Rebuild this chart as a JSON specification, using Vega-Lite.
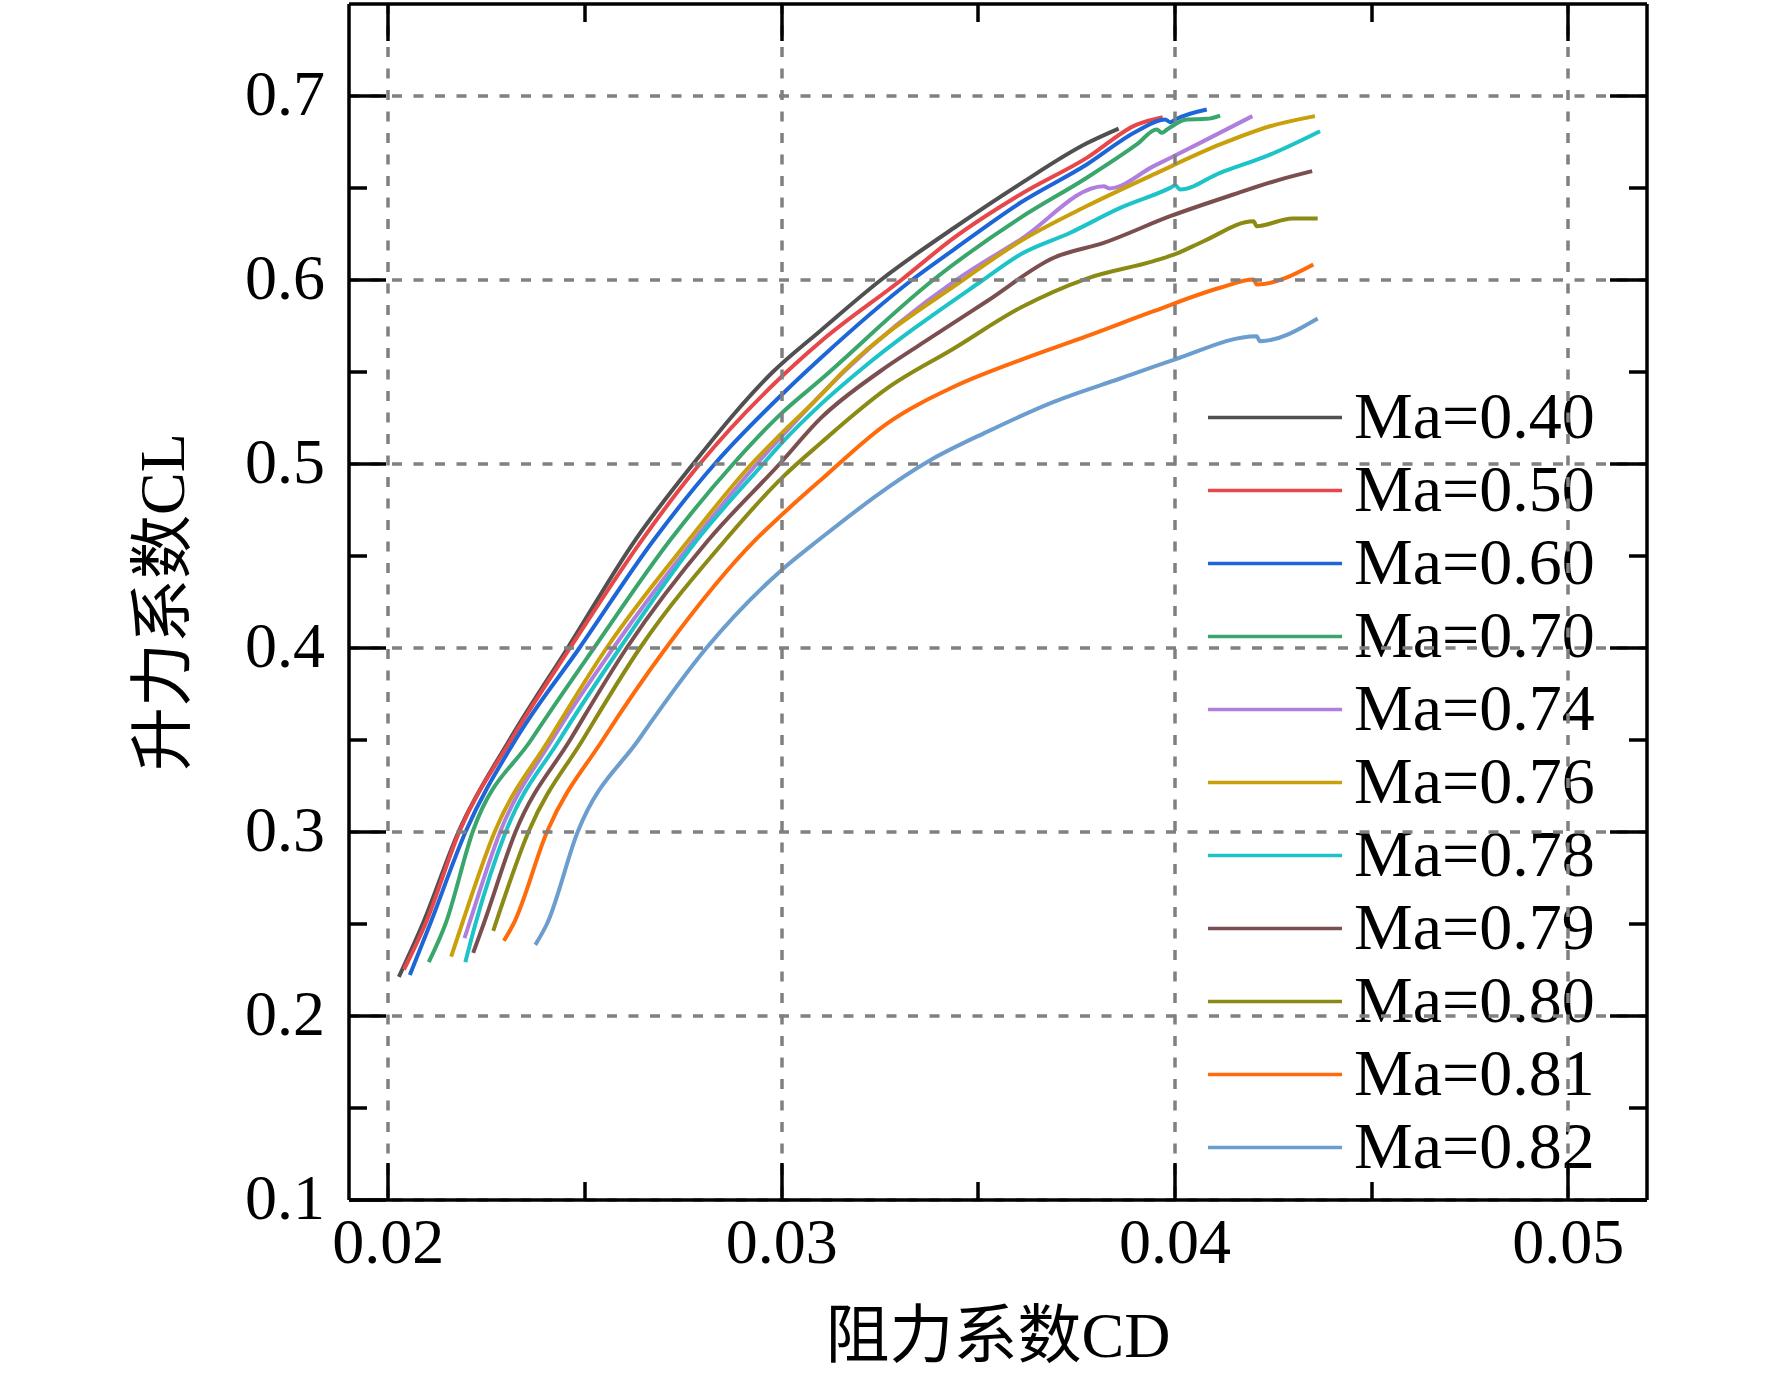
{
  "$schema": "https://vega.github.io/schema/vega-lite/v6.json",
  "width": 1298,
  "height": 1196,
  "autosize": {"type": "none"},
  "padding": {"left": 348.5, "top": 3.5, "right": 125.5, "bottom": 192.5},
  "background": "white",
  "config": {
    "view": {"stroke": null},
    "axis": {
      "domainColor": "black", "domainWidth": 3.5, "tickColor": "black", "tickWidth": 3.5,
      "labelFont": "Liberation Serif", "labelFontSize": 64, "labelColor": "black",
      "titleFont": "Liberation Serif, Noto Sans CJK SC", "titleFontSize": 64, "titleColor": "black", "titleFontWeight": "normal",
      "gridColor": "#808080", "gridWidth": 3.5, "gridDash": [10, 11.5], "gridOpacity": 1
    }
  },
  "data": {"values": [
    {"s":"Ma=0.40","cd":0.02028,"cl":0.221},{"s":"Ma=0.40","cd":0.02089,"cl":0.25},{"s":"Ma=0.40","cd":0.0218,"cl":0.30},{"s":"Ma=0.40","cd":0.0231,"cl":0.35},{"s":"Ma=0.40","cd":0.02458,"cl":0.40},{"s":"Ma=0.40","cd":0.02629,"cl":0.4584},{"s":"Ma=0.40","cd":0.02777,"cl":0.50},{"s":"Ma=0.40","cd":0.0298,"cl":0.55},{"s":"Ma=0.40","cd":0.031,"cl":0.5722},{"s":"Ma=0.40","cd":0.03255,"cl":0.60},{"s":"Ma=0.40","cd":0.03439,"cl":0.628},{"s":"Ma=0.40","cd":0.03608,"cl":0.652},{"s":"Ma=0.40","cd":0.03777,"cl":0.674},{"s":"Ma=0.40","cd":0.03858,"cl":0.682},
    {"s":"Ma=0.50","cd":0.02041,"cl":0.225},{"s":"Ma=0.50","cd":0.02096,"cl":0.25},{"s":"Ma=0.50","cd":0.02182,"cl":0.30},{"s":"Ma=0.50","cd":0.02314,"cl":0.35},{"s":"Ma=0.50","cd":0.02464,"cl":0.40},{"s":"Ma=0.50","cd":0.02646,"cl":0.4584},{"s":"Ma=0.50","cd":0.02794,"cl":0.50},{"s":"Ma=0.50","cd":0.03,"cl":0.547},{"s":"Ma=0.50","cd":0.031,"cl":0.5662},{"s":"Ma=0.50","cd":0.03307,"cl":0.60},{"s":"Ma=0.50","cd":0.03439,"cl":0.6226},{"s":"Ma=0.50","cd":0.03608,"cl":0.6462},{"s":"Ma=0.50","cd":0.03777,"cl":0.6661},{"s":"Ma=0.50","cd":0.03904,"cl":0.6842},{"s":"Ma=0.50","cd":0.0397,"cl":0.6882},
    {"s":"Ma=0.60","cd":0.02056,"cl":0.222},{"s":"Ma=0.60","cd":0.02108,"cl":0.25},{"s":"Ma=0.60","cd":0.02198,"cl":0.30},{"s":"Ma=0.60","cd":0.02325,"cl":0.35},{"s":"Ma=0.60","cd":0.02488,"cl":0.40},{"s":"Ma=0.60","cd":0.02676,"cl":0.4584},{"s":"Ma=0.60","cd":0.02832,"cl":0.50},{"s":"Ma=0.60","cd":0.03,"cl":0.5371},{"s":"Ma=0.60","cd":0.031,"cl":0.5572},{"s":"Ma=0.60","cd":0.03334,"cl":0.60},{"s":"Ma=0.60","cd":0.03439,"cl":0.6163},{"s":"Ma=0.60","cd":0.03608,"cl":0.6417},{"s":"Ma=0.60","cd":0.03777,"cl":0.6625},{"s":"Ma=0.60","cd":0.03904,"cl":0.6806},{"s":"Ma=0.60","cd":0.03976,"cl":0.687},{"s":"Ma=0.60","cd":0.03989,"cl":0.6855},{"s":"Ma=0.60","cd":0.04002,"cl":0.687},{"s":"Ma=0.60","cd":0.04082,"cl":0.6924},
    {"s":"Ma=0.70","cd":0.02104,"cl":0.229},{"s":"Ma=0.70","cd":0.02147,"cl":0.25},{"s":"Ma=0.70","cd":0.02216,"cl":0.30},{"s":"Ma=0.70","cd":0.02365,"cl":0.35},{"s":"Ma=0.70","cd":0.02525,"cl":0.40},{"s":"Ma=0.70","cd":0.02718,"cl":0.4584},{"s":"Ma=0.70","cd":0.02879,"cl":0.50},{"s":"Ma=0.70","cd":0.03,"cl":0.5271},{"s":"Ma=0.70","cd":0.031,"cl":0.5455},{"s":"Ma=0.70","cd":0.03388,"cl":0.60},{"s":"Ma=0.70","cd":0.03608,"cl":0.6335},{"s":"Ma=0.70","cd":0.03777,"cl":0.6553},{"s":"Ma=0.70","cd":0.03904,"cl":0.6734},{"s":"Ma=0.70","cd":0.03955,"cl":0.6815},{"s":"Ma=0.70","cd":0.03968,"cl":0.6797},{"s":"Ma=0.70","cd":0.03981,"cl":0.6815},{"s":"Ma=0.70","cd":0.04031,"cl":0.687},{"s":"Ma=0.70","cd":0.04082,"cl":0.6873},{"s":"Ma=0.70","cd":0.04116,"cl":0.6891},
    {"s":"Ma=0.74","cd":0.02195,"cl":0.242},{"s":"Ma=0.74","cd":0.02207,"cl":0.25},{"s":"Ma=0.74","cd":0.02286,"cl":0.30},{"s":"Ma=0.74","cd":0.02418,"cl":0.35},{"s":"Ma=0.74","cd":0.02574,"cl":0.40},{"s":"Ma=0.74","cd":0.02778,"cl":0.4584},{"s":"Ma=0.74","cd":0.02939,"cl":0.50},{"s":"Ma=0.74","cd":0.03,"cl":0.5144},{"s":"Ma=0.74","cd":0.0316,"cl":0.55},{"s":"Ma=0.74","cd":0.03447,"cl":0.60},{"s":"Ma=0.74","cd":0.03608,"cl":0.6217},{"s":"Ma=0.74","cd":0.0382,"cl":0.6507},{"s":"Ma=0.74","cd":0.03834,"cl":0.6495},{"s":"Ma=0.74","cd":0.03947,"cl":0.6616},{"s":"Ma=0.74","cd":0.04074,"cl":0.6752},{"s":"Ma=0.74","cd":0.04198,"cl":0.6888},
    {"s":"Ma=0.76","cd":0.02161,"cl":0.232},{"s":"Ma=0.76","cd":0.02189,"cl":0.25},{"s":"Ma=0.76","cd":0.02272,"cl":0.30},{"s":"Ma=0.76","cd":0.0241,"cl":0.35},{"s":"Ma=0.76","cd":0.02557,"cl":0.40},{"s":"Ma=0.76","cd":0.02765,"cl":0.4584},{"s":"Ma=0.76","cd":0.02926,"cl":0.50},{"s":"Ma=0.76","cd":0.03,"cl":0.5162},{"s":"Ma=0.76","cd":0.031,"cl":0.537},{"s":"Ma=0.76","cd":0.03158,"cl":0.55},{"s":"Ma=0.76","cd":0.03464,"cl":0.60},{"s":"Ma=0.76","cd":0.03608,"cl":0.6208},{"s":"Ma=0.76","cd":0.03777,"cl":0.6399},{"s":"Ma=0.76","cd":0.03947,"cl":0.6571},{"s":"Ma=0.76","cd":0.04116,"cl":0.6734},{"s":"Ma=0.76","cd":0.04243,"cl":0.6833},{"s":"Ma=0.76","cd":0.04357,"cl":0.6888},
    {"s":"Ma=0.78","cd":0.02197,"cl":0.229},{"s":"Ma=0.78","cd":0.02223,"cl":0.25},{"s":"Ma=0.78","cd":0.023,"cl":0.30},{"s":"Ma=0.78","cd":0.02437,"cl":0.35},{"s":"Ma=0.78","cd":0.02591,"cl":0.40},{"s":"Ma=0.78","cd":0.02786,"cl":0.4584},{"s":"Ma=0.78","cd":0.02955,"cl":0.50},{"s":"Ma=0.78","cd":0.03,"cl":0.5108},{"s":"Ma=0.78","cd":0.031,"cl":0.532},{"s":"Ma=0.78","cd":0.03197,"cl":0.55},{"s":"Ma=0.78","cd":0.03515,"cl":0.60},{"s":"Ma=0.78","cd":0.03608,"cl":0.6136},{"s":"Ma=0.78","cd":0.03735,"cl":0.6254},{"s":"Ma=0.78","cd":0.03862,"cl":0.6389},{"s":"Ma=0.78","cd":0.03989,"cl":0.6498},{"s":"Ma=0.78","cd":0.04002,"cl":0.6512},{"s":"Ma=0.78","cd":0.04014,"cl":0.6489},{"s":"Ma=0.78","cd":0.04116,"cl":0.658},{"s":"Ma=0.78","cd":0.04243,"cl":0.6679},{"s":"Ma=0.78","cd":0.0437,"cl":0.6806},
    {"s":"Ma=0.79","cd":0.02217,"cl":0.234},{"s":"Ma=0.79","cd":0.02244,"cl":0.25},{"s":"Ma=0.79","cd":0.02325,"cl":0.30},{"s":"Ma=0.79","cd":0.02464,"cl":0.35},{"s":"Ma=0.79","cd":0.02608,"cl":0.40},{"s":"Ma=0.79","cd":0.02815,"cl":0.4584},{"s":"Ma=0.79","cd":0.02997,"cl":0.50},{"s":"Ma=0.79","cd":0.031,"cl":0.5245},{"s":"Ma=0.79","cd":0.03251,"cl":0.55},{"s":"Ma=0.79","cd":0.03354,"cl":0.5647},{"s":"Ma=0.79","cd":0.03523,"cl":0.5882},{"s":"Ma=0.79","cd":0.03693,"cl":0.6118},{"s":"Ma=0.79","cd":0.0382,"cl":0.6199},{"s":"Ma=0.79","cd":0.03989,"cl":0.6344},{"s":"Ma=0.79","cd":0.0415,"cl":0.6462},{"s":"Ma=0.79","cd":0.04268,"cl":0.6543},{"s":"Ma=0.79","cd":0.0435,"cl":0.6589},
    {"s":"Ma=0.80","cd":0.02268,"cl":0.246},{"s":"Ma=0.80","cd":0.02358,"cl":0.30},{"s":"Ma=0.80","cd":0.02496,"cl":0.35},{"s":"Ma=0.80","cd":0.02642,"cl":0.40},{"s":"Ma=0.80","cd":0.02858,"cl":0.4584},{"s":"Ma=0.80","cd":0.03,"cl":0.4918},{"s":"Ma=0.80","cd":0.031,"cl":0.511},{"s":"Ma=0.80","cd":0.03269,"cl":0.5408},{"s":"Ma=0.80","cd":0.03439,"cl":0.5625},{"s":"Ma=0.80","cd":0.03608,"cl":0.5846},{"s":"Ma=0.80","cd":0.03777,"cl":0.6005},{"s":"Ma=0.80","cd":0.03947,"cl":0.61},{"s":"Ma=0.80","cd":0.04,"cl":0.6136},{"s":"Ma=0.80","cd":0.04074,"cl":0.6208},{"s":"Ma=0.80","cd":0.04201,"cl":0.6317},{"s":"Ma=0.80","cd":0.04209,"cl":0.629},{"s":"Ma=0.80","cd":0.043,"cl":0.6332},{"s":"Ma=0.80","cd":0.04364,"cl":0.6332},
    {"s":"Ma=0.81","cd":0.02295,"cl":0.2406},{"s":"Ma=0.81","cd":0.0232,"cl":0.25},{"s":"Ma=0.81","cd":0.02405,"cl":0.30},{"s":"Ma=0.81","cd":0.02547,"cl":0.35},{"s":"Ma=0.81","cd":0.02708,"cl":0.40},{"s":"Ma=0.81","cd":0.02934,"cl":0.4584},{"s":"Ma=0.81","cd":0.03,"cl":0.4718},{"s":"Ma=0.81","cd":0.031,"cl":0.4909},{"s":"Ma=0.81","cd":0.03269,"cl":0.5217},{"s":"Ma=0.81","cd":0.03439,"cl":0.5417},{"s":"Ma=0.81","cd":0.03608,"cl":0.5562},{"s":"Ma=0.81","cd":0.03777,"cl":0.5692},{"s":"Ma=0.81","cd":0.03947,"cl":0.5828},{"s":"Ma=0.81","cd":0.04116,"cl":0.5955},{"s":"Ma=0.81","cd":0.04201,"cl":0.60},{"s":"Ma=0.81","cd":0.04209,"cl":0.5973},{"s":"Ma=0.81","cd":0.04353,"cl":0.6082},
    {"s":"Ma=0.82","cd":0.02375,"cl":0.2384},{"s":"Ma=0.82","cd":0.02405,"cl":0.25},{"s":"Ma=0.82","cd":0.02483,"cl":0.30},{"s":"Ma=0.82","cd":0.02638,"cl":0.35},{"s":"Ma=0.82","cd":0.02811,"cl":0.40},{"s":"Ma=0.82","cd":0.03,"cl":0.4419},{"s":"Ma=0.82","cd":0.03095,"cl":0.4584},{"s":"Ma=0.82","cd":0.03379,"cl":0.5018},{"s":"Ma=0.82","cd":0.03523,"cl":0.5172},{"s":"Ma=0.82","cd":0.03693,"cl":0.5335},{"s":"Ma=0.82","cd":0.03862,"cl":0.5462},{"s":"Ma=0.82","cd":0.04,"cl":0.5565},{"s":"Ma=0.82","cd":0.04209,"cl":0.5692},{"s":"Ma=0.82","cd":0.04217,"cl":0.5665},{"s":"Ma=0.82","cd":0.04364,"cl":0.5788}
  ]},
  "resolve": {"axis": {"x": "independent", "y": "independent"}},
  "layer": [
    {
      "mark": {"type": "line", "strokeWidth": 4, "interpolate": "monotone", "clip": true},
      "encoding": {
        "x": {"field": "cd", "type": "quantitative",
          "scale": {"domain": [0.019, 0.052], "nice": false, "zero": false},
          "axis": {"orient": "bottom", "values": [0.02, 0.03, 0.04, 0.05], "format": ".2f", "tickSize": -37, "labelPadding": 49, "grid": true, "title": "阻力系数CD", "titlePadding": 30, "zindex": 1}},
        "y": {"field": "cl", "type": "quantitative",
          "scale": {"domain": [0.1, 0.75], "nice": false, "zero": false},
          "axis": {"orient": "left", "values": [0.1, 0.2, 0.3, 0.4, 0.5, 0.6, 0.7], "format": ".1f", "tickSize": -37, "labelPadding": 61, "grid": true, "title": "升力系数CL", "titlePadding": 48, "zindex": 1}},
        "color": {"field": "s", "type": "nominal",
          "scale": {"domain": ["Ma=0.40","Ma=0.50","Ma=0.60","Ma=0.70","Ma=0.74","Ma=0.76","Ma=0.78","Ma=0.79","Ma=0.80","Ma=0.81","Ma=0.82"],
            "range": ["#505050","#e8474a","#1c66d8","#3aa66c","#b07fdd","#c9a00b","#1cc4c8","#7b4f4f","#8a8a14","#ff6a0a","#6b9dcf"]},
          "legend": {"orient": "none", "legendX": 847.5, "legendY": 371, "title": null, "symbolType": "stroke", "symbolSize": 17956, "symbolStrokeWidth": 3.5, "clipHeight": 66, "labelFont": "Liberation Serif", "labelFontSize": 66, "labelColor": "black", "labelOffset": 10, "rowPadding": 7, "padding": 10, "fillColor": "white", "symbolOffset": 0, "labelLimit": 0}}
      }
    },
    {
      "mark": {"type": "point", "opacity": 0, "size": 0},
      "encoding": {
        "x": {"field": "cd", "type": "quantitative", "axis": {"orient": "top", "values": [0.02, 0.03, 0.04, 0.05], "labels": false, "tickSize": -37, "grid": false, "title": null, "zindex": 1}},
        "y": {"field": "cl", "type": "quantitative", "axis": {"orient": "right", "values": [0.1, 0.2, 0.3, 0.4, 0.5, 0.6, 0.7], "labels": false, "tickSize": -37, "grid": false, "title": null, "zindex": 1}}
      }
    },
    {
      "mark": {"type": "point", "opacity": 0, "size": 0},
      "encoding": {
        "x": {"field": "cd", "type": "quantitative", "axis": {"orient": "bottom", "values": [0.025, 0.035, 0.045], "labels": false, "domain": false, "tickSize": -18, "grid": false, "title": null, "zindex": 1}},
        "y": {"field": "cl", "type": "quantitative", "axis": {"orient": "left", "values": [0.15, 0.25, 0.35, 0.45, 0.55, 0.65], "labels": false, "domain": false, "tickSize": -18, "grid": false, "title": null, "zindex": 1}}
      }
    },
    {
      "mark": {"type": "point", "opacity": 0, "size": 0},
      "encoding": {
        "x": {"field": "cd", "type": "quantitative", "axis": {"orient": "top", "values": [0.025, 0.035, 0.045], "labels": false, "domain": false, "tickSize": -18, "grid": false, "title": null, "zindex": 1}},
        "y": {"field": "cl", "type": "quantitative", "axis": {"orient": "right", "values": [0.15, 0.25, 0.35, 0.45, 0.55, 0.65], "labels": false, "domain": false, "tickSize": -18, "grid": false, "title": null, "zindex": 1}}
      }
    }
  ]
}
